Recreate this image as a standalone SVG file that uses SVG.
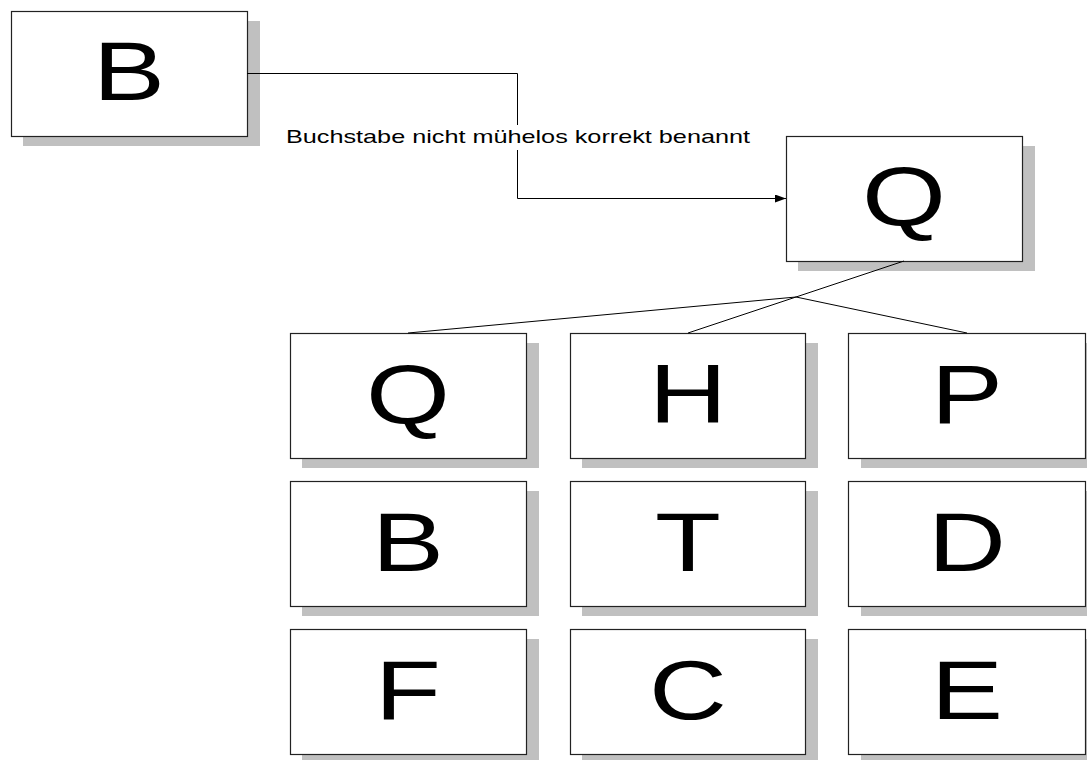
<svg xmlns="http://www.w3.org/2000/svg" width="1087" height="760" viewBox="0 0 1087 760">
<style>
.sh{fill:#c0c0c0;stroke:none}
.bx{fill:#fff;stroke:#222;stroke-width:1.2}
.lt{font-family:"Liberation Sans",Arial,sans-serif;font-size:83px;fill:#000;text-anchor:middle}
.ln{fill:none;stroke:#000;stroke-width:1}
.lb{font-family:"Liberation Sans",Arial,sans-serif;font-size:18.5px;fill:#000}
</style>
<defs>
<marker id="ah" markerWidth="11" markerHeight="8" refX="11" refY="4" orient="auto" markerUnits="userSpaceOnUse">
<path d="M0,0 L11,4 L0,8 Z" fill="#000"/>
</marker>
</defs>
<g id="node-B-top">
<rect class="sh" x="23" y="21" width="237" height="125"/>
<rect class="bx" x="11.5" y="11.5" width="236" height="125"/>
<text class="lt" transform="translate(129,100) scale(1.3,1)">B</text>
</g>
<g id="node-Q-top">
<rect class="sh" x="798" y="146" width="237" height="125"/>
<rect class="bx" x="786.5" y="136.5" width="236" height="125"/>
<text class="lt" transform="translate(904,225) scale(1.3,1)">Q</text>
</g>
<g id="node-Q">
<rect class="sh" x="302" y="343" width="237" height="125"/>
<rect class="bx" x="290.5" y="333.5" width="236" height="125"/>
<text class="lt" transform="translate(408,423) scale(1.3,1)">Q</text>
</g>
<g id="node-H">
<rect class="sh" x="582" y="343" width="236" height="125"/>
<rect class="bx" x="570.5" y="333.5" width="235" height="125"/>
<text class="lt" transform="translate(688,423) scale(1.3,1)">H</text>
</g>
<g id="node-P">
<rect class="sh" x="861" y="343" width="237" height="125"/>
<rect class="bx" x="848.5" y="333.5" width="237" height="125"/>
<text class="lt" transform="translate(967,423) scale(1.3,1)">P</text>
</g>
<g id="node-B">
<rect class="sh" x="302" y="491" width="237" height="125"/>
<rect class="bx" x="290.5" y="481.5" width="236" height="125"/>
<text class="lt" transform="translate(408,571) scale(1.3,1)">B</text>
</g>
<g id="node-T">
<rect class="sh" x="582" y="491" width="236" height="125"/>
<rect class="bx" x="570.5" y="481.5" width="235" height="125"/>
<text class="lt" transform="translate(688,571) scale(1.3,1)">T</text>
</g>
<g id="node-D">
<rect class="sh" x="861" y="491" width="237" height="125"/>
<rect class="bx" x="848.5" y="481.5" width="237" height="125"/>
<text class="lt" transform="translate(967,571) scale(1.3,1)">D</text>
</g>
<g id="node-F">
<rect class="sh" x="302" y="639" width="237" height="125"/>
<rect class="bx" x="290.5" y="629.5" width="236" height="125"/>
<text class="lt" transform="translate(408,719) scale(1.3,1)">F</text>
</g>
<g id="node-C">
<rect class="sh" x="582" y="639" width="236" height="125"/>
<rect class="bx" x="570.5" y="629.5" width="235" height="125"/>
<text class="lt" transform="translate(688,719) scale(1.3,1)">C</text>
</g>
<g id="node-E">
<rect class="sh" x="861" y="639" width="237" height="125"/>
<rect class="bx" x="848.5" y="629.5" width="237" height="125"/>
<text class="lt" transform="translate(967,719) scale(1.3,1)">E</text>
</g>
<g id="connectors">
<polyline class="ln" points="247,73.5 517.5,73.5 517.5,198.5 786,198.5" marker-end="url(#ah)"/>
<rect x="284" y="125" width="470" height="25" fill="#fff"/>
<text class="lb" x="286" y="142.7" textLength="464" lengthAdjust="spacingAndGlyphs">Buchstabe nicht mühelos korrekt benannt</text>
<line class="ln" x1="904" y1="261" x2="796" y2="297"/>
<line class="ln" x1="796" y1="297" x2="408" y2="333"/>
<line class="ln" x1="796" y1="297" x2="688" y2="333"/>
<line class="ln" x1="796" y1="297" x2="967" y2="333"/>
</g>
</svg>
